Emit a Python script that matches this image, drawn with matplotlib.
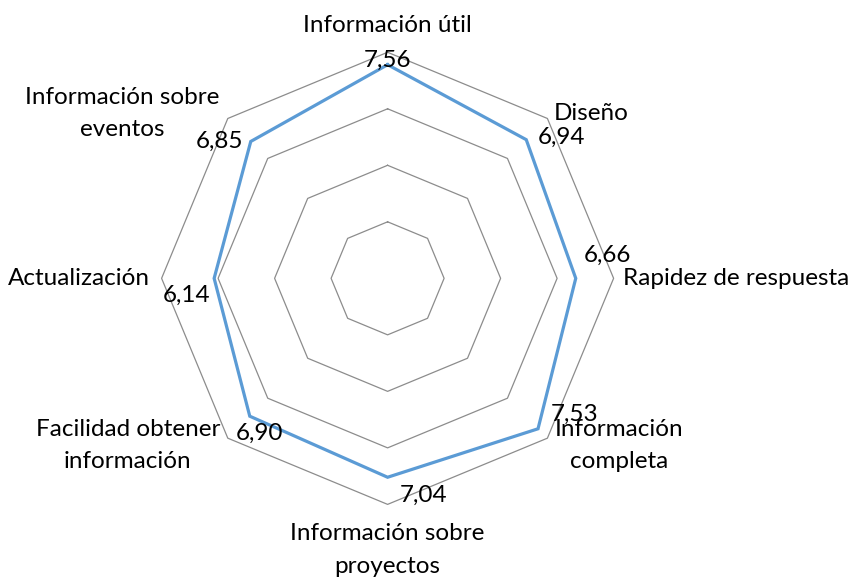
import numpy as np
import matplotlib.pyplot as plt

categorias = ["Información útil", "Diseño", "Rapidez de respuesta",
              "Información\ncompleta", "Información sobre\nproyectos",
              "Facilidad obtener\ninformación", "Actualización",
              "Información sobre\neventos"]
valores = [7.56, 6.94, 6.66, 7.53, 7.04, 6.90, 6.14, 6.85]
etiquetas = ["7,56", "6,94", "6,66", "7,53", "7,04", "6,90", "6,14", "6,85"]
anillos = [2, 4, 6, 8]

plt.rcParams['font.family'] = ['Lato', 'DejaVu Sans']

n = len(valores)
# clockwise from top
ang = np.pi / 2 - np.arange(n) * 2 * np.pi / n

fig = plt.figure(figsize=(8.56, 5.77), dpi=100)
ax = fig.add_axes([0, 0, 1, 1])
ax.set_xlim(-13.72, 16.58)
ax.set_ylim(-10.57, 9.85)
ax.axis('off')

for r in anillos:
    xs = np.append(r * np.cos(ang), r * np.cos(ang[0]))
    ys = np.append(r * np.sin(ang), r * np.sin(ang[0]))
    ax.plot(xs, ys, color='#8c8c8c', lw=0.9, zorder=1)

v = np.array(valores)
px = np.append(v * np.cos(ang), v[0] * np.cos(ang[0]))
py = np.append(v * np.sin(ang), v[0] * np.sin(ang[0]))
ax.plot(px, py, color='#5b9bd5', lw=2.3, zorder=3, solid_joinstyle='miter')

fs = 17.5
# data label offsets (pixels)
offs = [(0, 4), (35, 2), (32, 23), (37, 14), (36, -18), (10, -17), (-28, -17), (-31, 0)]
for i in range(n):
    ax.annotate(etiquetas[i], xy=(px[i], py[i]), xytext=offs[i],
                textcoords='offset pixels', ha='center', va='center',
                fontsize=fs, zorder=4)

# category label positions
pos = [(0, 8.96, 'center'), (7.21, 5.85, 'center'), (8.33, 0.0, 'left'),
       (8.21, -5.91, 'center'), (0, -9.62, 'center'), (-9.2, -5.91, 'center'),
       (-8.41, 0.0, 'right'), (-9.4, 5.84, 'center')]
for i, (x, y, ha) in enumerate(pos):
    ax.text(x, y, categorias[i], ha=ha, va='center', fontsize=fs,
            linespacing=1.68, multialignment='center', zorder=4)

fig.savefig('out.png', dpi=100)
